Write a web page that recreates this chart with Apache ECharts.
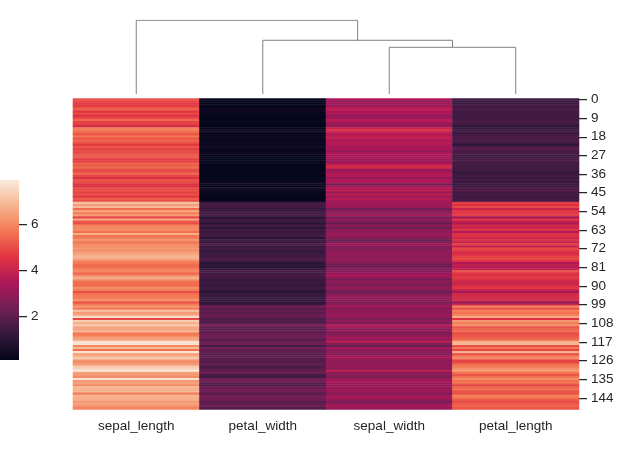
<!DOCTYPE html>
<html><head><meta charset="utf-8">
<style>html,body{margin:0;padding:0;background:#fff}#c{width:630px;height:450px}</style>
<script src="https://cdn.jsdelivr.net/npm/echarts@6/dist/echarts.min.js"></script>
</head><body><div id="c"></div>
<script>
const columns = ['sepal_length','petal_width','sepal_width','petal_length'];
const sepal_length = [5.1,4.9,4.7,4.6,5.0,5.4,4.6,5.0,4.4,4.9,5.4,4.8,4.8,4.3,5.8,5.7,5.4,5.1,5.7,5.1,5.4,5.1,4.6,5.1,4.8,5.0,5.0,5.2,5.2,4.7,4.8,5.4,5.2,5.5,4.9,5.0,5.5,4.9,4.4,5.1,5.0,4.5,4.4,5.0,5.1,4.8,5.1,4.6,5.3,5.0,
7.0,6.4,6.9,5.5,6.5,5.7,6.3,4.9,6.6,5.2,5.0,5.9,6.0,6.1,5.6,6.7,5.6,5.8,6.2,5.6,5.9,6.1,6.3,6.1,6.4,6.6,6.8,6.7,6.0,5.7,5.5,5.5,5.8,6.0,5.4,6.0,6.7,6.3,5.6,5.5,5.5,6.1,5.8,5.0,5.6,5.7,5.7,6.2,5.1,5.7,
6.3,5.8,7.1,6.3,6.5,7.6,4.9,7.3,6.7,7.2,6.5,6.4,6.8,5.7,5.8,6.4,6.5,7.7,7.7,6.0,6.9,5.6,7.7,6.3,6.7,7.2,6.2,6.1,6.4,7.2,7.4,7.9,6.4,6.3,6.1,7.7,6.3,6.4,6.0,6.9,6.7,6.9,5.8,6.8,6.7,6.7,6.3,6.5,6.2,5.9];
const sepal_width = [3.5,3.0,3.2,3.1,3.6,3.9,3.4,3.4,2.9,3.1,3.7,3.4,3.0,3.0,4.0,4.4,3.9,3.5,3.8,3.8,3.4,3.7,3.6,3.3,3.4,3.0,3.4,3.5,3.4,3.2,3.1,3.4,4.1,4.2,3.1,3.2,3.5,3.6,3.0,3.4,3.5,2.3,3.2,3.5,3.8,3.0,3.8,3.2,3.7,3.3,
3.2,3.2,3.1,2.3,2.8,2.8,3.3,2.4,2.9,2.7,2.0,3.0,2.2,2.9,2.9,3.1,3.0,2.7,2.2,2.5,3.2,2.8,2.5,2.8,2.9,3.0,2.8,3.0,2.9,2.6,2.4,2.4,2.7,2.7,3.0,3.4,3.1,2.3,3.0,2.5,2.6,3.0,2.6,2.3,2.7,3.0,2.9,2.9,2.5,2.8,
3.3,2.7,3.0,2.9,3.0,3.0,2.5,2.9,2.5,3.6,3.2,2.7,3.0,2.5,2.8,3.2,3.0,3.8,2.6,2.2,3.2,2.8,2.8,2.7,3.3,3.2,2.8,3.0,2.8,3.0,2.8,3.8,2.8,2.8,2.6,3.0,3.4,3.1,3.0,3.1,3.1,3.1,2.7,3.2,3.3,3.0,2.5,3.0,3.4,3.0];
const petal_length = [1.4,1.4,1.3,1.5,1.4,1.7,1.4,1.5,1.4,1.5,1.5,1.6,1.4,1.1,1.2,1.5,1.3,1.4,1.7,1.5,1.7,1.5,1.0,1.7,1.9,1.6,1.6,1.5,1.4,1.6,1.6,1.5,1.5,1.4,1.5,1.2,1.3,1.4,1.3,1.5,1.3,1.3,1.3,1.6,1.9,1.4,1.6,1.4,1.5,1.4,
4.7,4.5,4.9,4.0,4.6,4.5,4.7,3.3,4.6,3.9,3.5,4.2,4.0,4.7,3.6,4.4,4.5,4.1,4.5,3.9,4.8,4.0,4.9,4.7,4.3,4.4,4.8,5.0,4.5,3.5,3.8,3.7,3.9,5.1,4.5,4.5,4.7,4.4,4.1,4.0,4.4,4.6,4.0,3.3,4.2,4.2,4.2,4.3,3.0,4.1,
6.0,5.1,5.9,5.6,5.8,6.6,4.5,6.3,5.8,6.1,5.1,5.3,5.5,5.0,5.1,5.3,5.5,6.7,6.9,5.0,5.7,4.9,6.7,4.9,5.7,6.0,4.8,4.9,5.6,5.8,6.1,6.4,5.6,5.1,5.6,6.1,5.6,5.5,4.8,5.4,5.6,5.1,5.1,5.9,5.7,5.2,5.0,5.2,5.4,5.1];
const petal_width = [0.2,0.2,0.2,0.2,0.2,0.4,0.3,0.2,0.2,0.1,0.2,0.2,0.1,0.1,0.2,0.4,0.4,0.3,0.3,0.3,0.2,0.4,0.2,0.5,0.2,0.2,0.4,0.2,0.2,0.2,0.2,0.4,0.1,0.2,0.2,0.2,0.2,0.1,0.2,0.2,0.3,0.3,0.2,0.6,0.4,0.3,0.2,0.2,0.2,0.2,
1.4,1.5,1.5,1.3,1.5,1.3,1.6,1.0,1.3,1.4,1.0,1.5,1.0,1.4,1.3,1.4,1.5,1.0,1.5,1.1,1.8,1.3,1.5,1.2,1.3,1.4,1.4,1.7,1.5,1.0,1.1,1.0,1.2,1.6,1.5,1.6,1.5,1.3,1.3,1.3,1.2,1.4,1.2,1.0,1.3,1.2,1.3,1.3,1.1,1.3,
2.5,1.9,2.1,1.8,2.2,2.1,1.7,1.8,1.8,2.5,2.0,1.9,2.1,2.0,2.4,2.3,1.8,2.2,2.3,1.5,2.3,2.0,2.0,1.8,2.1,1.8,1.8,1.8,2.1,1.6,1.9,2.0,2.2,1.5,1.4,2.3,2.4,1.8,1.8,2.1,2.4,2.3,1.9,2.3,2.5,2.3,1.9,2.0,2.3,1.8];
const colorbarTicks = [2,4,6];
const rocket = ['#03051A','#35193E','#701F57','#AD1759','#E13342','#F37651','#F6B48F','#FAEBDD'];
const valueMin = 0.1, valueMax = 7.9;
// dendrogram links: left leaf position, right leaf position, left base height, right base height, merge height
const linkLeft  = [2.5, 1.5, 0.5];
const linkRight = [3.5, 3.0, 2.25];
const linkLeftBase  = [0, 0, 0];
const linkRightBase = [0, 0.631, 0.726];
const linkHeight = [0.631, 0.726, 0.996];

const matrix = [sepal_length, petal_width, sepal_width, petal_length];
const rows = sepal_length.map((_, i) => String(i));
const cells = [];
matrix.forEach((col, x) => col.forEach((v, y) => cells.push([x, y, v])));
const font = 'Liberation Sans';
const ink = '#262626';

const dendroSeries = linkHeight.map((h, i) => ({
  type: 'line', xAxisIndex: 1, yAxisIndex: 1, silent: true, symbol: 'none', animation: false,
  lineStyle: { color: '#808080', width: 1 },
  data: [[linkLeft[i], linkLeftBase[i]], [linkLeft[i], h], [linkRight[i], h], [linkRight[i], linkRightBase[i]]]
}));

const chart = echarts.init(document.getElementById('c'), null, { renderer: 'canvas' });
chart.setOption({
  animation: false,
  backgroundColor: '#fff',
  grid: [
    { left: 73, top: 98.4, width: 506, height: 311 },
    { left: 73, top: 20, width: 506, height: 74 },
    { left: 0, top: 180, width: 19, height: 180 }
  ],
  xAxis: [
    { gridIndex: 0, type: 'category', data: columns, axisLine: { show: false }, axisTick: { show: false },
      splitLine: { show: false },
      axisLabel: { color: ink, fontFamily: font, fontSize: 13.5, margin: 10 } },
    { gridIndex: 1, type: 'value', min: 0, max: 4, show: false },
    { gridIndex: 2, type: 'category', data: ['colorbar'], show: false }
  ],
  yAxis: [
    { gridIndex: 0, type: 'category', data: rows, inverse: true, position: 'right',
      axisLine: { show: false }, splitLine: { show: false },
      axisTick: { show: true, alignWithLabel: true, interval: 8, length: 8, lineStyle: { color: ink, width: 1.25 } },
      axisLabel: { interval: 8, color: ink, fontFamily: font, fontSize: 13.5, margin: 12, padding: [1.5, 0, 0, 0] } },
    { gridIndex: 1, type: 'value', min: 0, max: 1, show: false },
    { gridIndex: 2, type: 'value', min: valueMin, max: valueMax, position: 'right',
      axisLine: { show: false }, splitLine: { show: false },
      axisTick: { show: true, customValues: colorbarTicks, length: 8, lineStyle: { color: ink, width: 1.25 } },
      axisLabel: { customValues: colorbarTicks, color: ink, fontFamily: font, fontSize: 13.5, margin: 12 } }
  ],
  visualMap: {
    type: 'continuous', show: false, min: valueMin, max: valueMax, seriesIndex: 0,
    inRange: { color: rocket }
  },
  series: [
    { type: 'heatmap', xAxisIndex: 0, yAxisIndex: 0, data: cells, progressive: 0, silent: true, animation: false,
      itemStyle: { borderWidth: 0 } },
    { type: 'bar', xAxisIndex: 2, yAxisIndex: 2, data: [valueMax], barWidth: '100%', silent: true, animation: false,
      itemStyle: { color: new echarts.graphic.LinearGradient(0, 1, 0, 0,
        rocket.map((c, i) => ({ offset: i / (rocket.length - 1), color: c }))) } },
    ...dendroSeries
  ]
});
</script></body></html>
